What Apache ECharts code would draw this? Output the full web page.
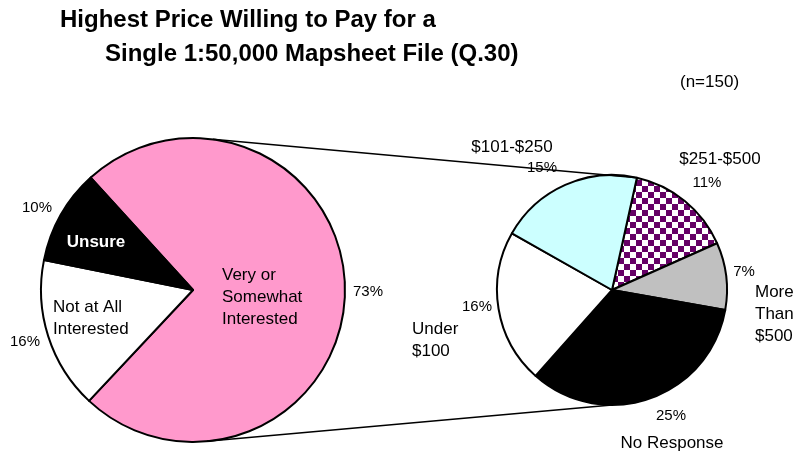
<!DOCTYPE html>
<html><head><meta charset="utf-8">
<script src="https://cdn.jsdelivr.net/npm/echarts@6/dist/echarts.min.js"></script>
<style>html,body{margin:0;padding:0;background:#fff}#c{width:797px;height:452px}</style>
</head><body><div id="c"></div>
<script>
// ---- data ----
const titleLines = ['Highest Price Willing to Pay for a', 'Single 1:50,000 Mapsheet File (Q.30)'];
const sampleNote = '(n=150)';
const interestNames = ['Very or\nSomewhat\nInterested', 'Not at All\nInterested', 'Unsure'];
const interestValues = [73, 16, 10];
const priceNames = ['$251-$500', 'More\nThan\n$500', 'No Response', 'Under\n$100', '$101-$250'];
const priceValues = [11, 7, 25, 16, 15];

// ---- layout / style ----
const FONT = '"Liberation Sans", Arial, sans-serif';
const L = {cx: 193, cy: 290, r: 152, start: 132.3};
const R = {cx: 612, cy: 290, r: 115, start: 77.5};

function checker() {
  const c = document.createElement('canvas');
  c.width = 12; c.height = 12;
  const g = c.getContext('2d');
  g.fillStyle = '#ffffff'; g.fillRect(0, 0, 12, 12);
  g.fillStyle = '#660066'; g.fillRect(0, 0, 6, 6); g.fillRect(6, 6, 6, 6);
  return c;
}
const leftColors = ['#FF99CC', '#FFFFFF', '#000000'];
const rightColors = [{image: checker(), repeat: 'repeat'}, '#C0C0C0', '#000000', '#FFFFFF', '#CCFFFF'];

const leftNamePos = [[222, 297, 'left'], [53, 318, 'left'], [96, 242, 'center']];
const leftPctPos = [[368, 292], [25, 342], [37, 208]];
const rightNamePos = [[720, 159, 'center'], [755, 314, 'left'], [672, 443, 'center'], [412, 340, 'left'], [512, 147, 'center']];
const rightPctPos = [[707, 183], [744, 272], [671, 416], [477, 307], [542, 168]];

function layoutFn(pos) {
  return function (p) {
    const q = pos[p.dataIndex];
    return {x: q[0], y: q[1], align: q[2] || 'center', verticalAlign: 'middle'};
  };
}

function pieSeries(g, names, values, colors, namePos, pctPos, nameStyles) {
  const base = {
    type: 'pie', center: [g.cx, g.cy], radius: g.r, startAngle: g.start,
    clockwise: true, avoidLabelOverlap: false, animation: false,
    labelLine: {show: false}, emphasis: {disabled: true}
  };
  return [
    Object.assign({}, base, {
      data: values.map((v, i) => ({
        name: names[i], value: v,
        itemStyle: {color: colors[i], borderColor: '#000', borderWidth: 2},
        label: Object.assign({color: '#000', fontWeight: 'normal'}, nameStyles[i] || {})
      })),
      label: {show: true, position: 'inside', formatter: '{b}', fontFamily: FONT, fontSize: 17, lineHeight: 22},
      labelLayout: layoutFn(namePos)
    }),
    Object.assign({}, base, {
      silent: true,
      data: values.map((v, i) => ({name: names[i], value: v,
        itemStyle: {color: 'rgba(0,0,0,0)', borderWidth: 0}})),
      label: {show: true, position: 'inside', formatter: '{c}%', color: '#000', fontFamily: FONT, fontSize: 15},
      labelLayout: layoutFn(pctPos)
    })
  ];
}

function pt(g, deg) {
  const a = deg * Math.PI / 180;
  return [g.cx + g.r * Math.cos(a), g.cy - g.r * Math.sin(a)];
}
const lt = pt(L, 82.5), lb = pt(L, -84.7), rt = pt(R, R.start), rb = pt(R, -90);

const chart = echarts.init(document.getElementById('c'), null, {renderer: 'canvas'});
chart.setOption({
  backgroundColor: '#ffffff',
  animation: false,
  title: [
    {text: titleLines[0], left: 60, top: 8, padding: 0, textStyle: {fontFamily: FONT, fontSize: 24, fontWeight: 'bold', color: '#000'}},
    {text: titleLines[1], left: 105, top: 42, padding: 0, textStyle: {fontFamily: FONT, fontSize: 24, fontWeight: 'bold', color: '#000'}},
    {text: sampleNote, left: 680, top: 74, padding: 0, textStyle: {fontFamily: FONT, fontSize: 17, fontWeight: 'normal', color: '#000'}}
  ],
  graphic: [
    {type: 'line', z: 100, shape: {x1: lt[0], y1: lt[1], x2: rt[0], y2: rt[1]}, style: {stroke: '#000', lineWidth: 1.5}},
    {type: 'line', z: 100, shape: {x1: lb[0], y1: lb[1], x2: rb[0], y2: rb[1]}, style: {stroke: '#000', lineWidth: 1.5}}
  ],
  series: [
    ...pieSeries(L, interestNames, interestValues, leftColors, leftNamePos, leftPctPos, [null, null, {color: '#fff', fontWeight: 'bold'}]),
    ...pieSeries(R, priceNames, priceValues, rightColors, rightNamePos, rightPctPos, [])
  ]
});
</script>
</body></html>
